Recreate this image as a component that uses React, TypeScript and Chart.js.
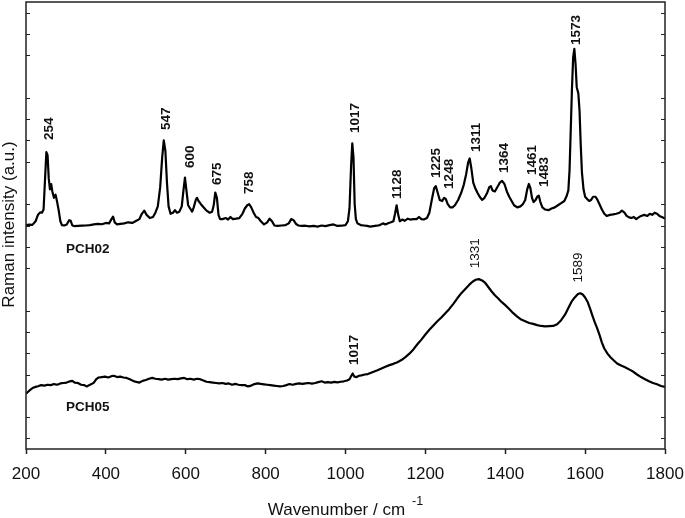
import React, { useEffect, useRef } from "react";
import { Chart, registerables } from "chart.js";

Chart.register(...registerables);

// ---- Data (wavenumber in cm^-1, intensity in arbitrary units, offset spectra) ----
const pch02Wavenumber = [
  200, 208, 216, 224, 230, 236, 240, 244, 248, 251, 254, 257, 260, 263, 266, 270, 274, 278, 282, 286,
  290, 296, 302, 308, 312, 316, 322, 330, 340, 350, 360, 370, 380, 390, 400, 408, 414, 418, 422, 428,
  436, 446, 456, 466, 474, 484, 490, 496, 502, 510, 518, 524, 530, 536, 541, 545, 549, 553, 557, 562,
  568, 573, 578, 584, 590, 594, 598, 602, 606, 611, 616, 620, 625, 628, 632, 638, 645, 652, 660, 666,
  670, 674, 678, 682, 686, 692, 700, 706, 712, 718, 726, 734, 742, 748, 754, 759, 764, 770, 776, 782,
  788, 796, 804, 810, 816, 822, 830, 840, 850, 858, 864, 870, 876, 882, 890, 900, 910, 920, 930, 940,
  950, 960, 970, 980, 990, 1000, 1006, 1010, 1014, 1017, 1020, 1023, 1026, 1030, 1038, 1046, 1054, 1062, 1070, 1078,
  1086, 1094, 1100, 1108, 1114, 1120, 1124, 1128, 1132, 1136, 1142, 1148, 1156, 1162, 1170, 1178, 1184, 1190, 1196, 1204,
  1210, 1216, 1222, 1226, 1230, 1236, 1242, 1247, 1251, 1256, 1262, 1268, 1274, 1282, 1290, 1296, 1302, 1307, 1311, 1315,
  1320, 1325, 1330, 1336, 1342, 1348, 1354, 1360, 1364, 1368, 1374, 1380, 1386, 1392, 1398, 1404, 1410, 1416, 1422, 1430,
  1438, 1444, 1450, 1455, 1459, 1463, 1467, 1471, 1476, 1480, 1484, 1488, 1493, 1500, 1508, 1516, 1524, 1532, 1540, 1548,
  1554, 1558, 1561, 1564, 1567, 1570, 1573, 1576, 1579, 1583, 1586, 1589, 1592, 1596, 1600, 1605, 1610, 1615, 1620, 1626,
  1631, 1636, 1642, 1648, 1654, 1662, 1670, 1678, 1686, 1692, 1698, 1704, 1710, 1716, 1722, 1728, 1734, 1740, 1748, 1756,
  1762, 1768, 1774, 1780, 1786, 1792, 1800,
];
const pch02Intensity = [
  10.02, 10.04, 10.03, 10.2, 10.5, 10.62, 10.6, 10.75, 12.3, 13.45, 13.3, 12.2, 11.7, 11.95, 11.6, 11.3, 11.45, 11.1, 10.7, 10.2,
  10.02, 10.0, 10.05, 10.25, 10.22, 10.0, 9.97, 9.98, 9.99, 10.0, 10.02, 10.05, 10.08, 10.06, 10.12, 10.1, 10.3, 10.42, 10.15, 10.05,
  10.08, 10.1, 10.15, 10.12, 10.2, 10.3, 10.55, 10.7, 10.5, 10.35, 10.4, 10.6, 10.9, 11.8, 13.2, 14.0, 13.5, 12.0, 10.9, 10.55,
  10.6, 10.72, 10.6, 10.65, 10.9, 11.6, 12.25, 11.6, 10.95, 10.8, 10.65, 10.85, 11.2, 11.3, 11.15, 11.0, 10.85, 10.7, 10.6, 10.65,
  10.95, 11.55, 11.3, 10.5, 10.3, 10.3, 10.35, 10.28, 10.4, 10.3, 10.32, 10.35, 10.55, 10.8, 10.95, 11.0, 10.85, 10.6, 10.4, 10.35,
  10.2, 10.05, 10.15, 10.32, 10.2, 10.0, 9.98, 10.0, 10.02, 10.1, 10.3, 10.25, 10.08, 10.0, 9.98, 9.99, 9.96, 9.98, 9.95, 10.0,
  9.97, 10.02, 10.05, 9.98, 9.99, 10.02, 10.2, 10.8, 12.8, 13.86, 13.2, 11.0, 10.3, 10.1, 10.02, 10.0, 9.98, 9.95, 9.97, 9.99,
  10.02, 10.1, 10.05, 10.12, 10.15, 10.2, 10.55, 10.95, 10.5, 10.2, 10.28, 10.22, 10.32, 10.28, 10.3, 10.3, 10.4, 10.3, 10.28, 10.35,
  10.6, 11.2, 11.75, 11.85, 11.6, 11.2, 11.15, 11.3, 11.25, 11.0, 10.85, 10.85, 10.95, 11.2, 11.55, 11.9, 12.4, 12.95, 13.15, 12.7,
  12.0, 11.75, 11.55, 11.35, 11.2, 11.3, 11.5, 11.8, 11.85, 11.65, 11.6, 11.8, 12.0, 12.1, 11.95, 11.6, 11.35, 11.15, 10.95, 10.85,
  10.9, 11.0, 11.2, 11.7, 11.95, 11.75, 11.3, 11.1, 11.2, 11.35, 11.4, 11.1, 10.85, 10.75, 10.72, 10.8, 10.85, 10.95, 11.05, 11.15,
  11.4, 11.65, 12.6, 14.5, 16.4, 17.9, 18.3, 17.6, 16.5, 16.2, 15.4, 13.8, 12.5, 11.7, 11.35, 11.25, 11.15, 11.2, 11.35, 11.35,
  11.2, 11.0, 10.75, 10.55, 10.45, 10.5, 10.52, 10.55, 10.6, 10.7, 10.62, 10.45, 10.38, 10.35, 10.4, 10.3, 10.38, 10.45, 10.5, 10.45,
  10.55, 10.5, 10.6, 10.55, 10.45, 10.4, 10.33,
];

const pch05Wavenumber = [
  200, 206, 212, 218, 224, 230, 238, 246, 254, 262, 270, 278, 286, 294, 302, 310, 316, 322, 330, 338,
  346, 352, 358, 364, 370, 376, 382, 390, 398, 406, 414, 420, 428, 436, 444, 452, 460, 468, 476, 484,
  492, 500, 508, 516, 524, 532, 540, 548, 556, 564, 572, 580, 588, 596, 604, 612, 620, 628, 636, 644,
  652, 660, 668, 676, 684, 692, 700, 708, 716, 724, 732, 740, 748, 756, 764, 772, 780, 788, 796, 804,
  812, 820, 828, 836, 844, 852, 860, 868, 876, 884, 892, 900, 908, 916, 924, 932, 940, 948, 956, 964,
  972, 980, 988, 996, 1004, 1010, 1014, 1018, 1022, 1028, 1034, 1040, 1048, 1056, 1064, 1072, 1080, 1090, 1100, 1110,
  1120, 1130, 1140, 1150, 1160, 1170, 1180, 1190, 1200, 1210, 1220, 1230, 1240, 1250, 1260, 1270, 1280, 1290, 1300, 1310,
  1318, 1326, 1334, 1342, 1350, 1358, 1366, 1374, 1382, 1390, 1400, 1410, 1420, 1430, 1440, 1450, 1460, 1470, 1480, 1490,
  1500, 1510, 1520, 1530, 1540, 1550, 1558, 1566, 1574, 1582, 1588, 1594, 1600, 1606, 1612, 1618, 1624, 1630, 1636, 1642,
  1648, 1656, 1664, 1672, 1680, 1690, 1700, 1710, 1720, 1730, 1740, 1750, 1760, 1770, 1780, 1790, 1800,
];
const pch05Intensity = [
  2.1, 2.2, 2.3, 2.38, 2.42, 2.45, 2.5, 2.48, 2.52, 2.5, 2.55, 2.52, 2.58, 2.6, 2.62, 2.68, 2.7, 2.62, 2.6, 2.52,
  2.5, 2.44, 2.5, 2.55, 2.62, 2.78, 2.86, 2.88, 2.9, 2.86, 2.92, 2.94, 2.88, 2.9, 2.86, 2.84, 2.78, 2.7, 2.65, 2.62,
  2.7, 2.74, 2.8, 2.84, 2.8, 2.78, 2.76, 2.8, 2.76, 2.78, 2.8, 2.78, 2.82, 2.84, 2.78, 2.8, 2.76, 2.8, 2.78, 2.72,
  2.66, 2.64, 2.62, 2.6, 2.58, 2.6, 2.56, 2.58, 2.52, 2.56, 2.52, 2.5, 2.5, 2.44, 2.48, 2.55, 2.58, 2.56, 2.54, 2.52,
  2.5, 2.48, 2.46, 2.44, 2.46, 2.5, 2.55, 2.52, 2.56, 2.58, 2.56, 2.58, 2.6, 2.57, 2.6, 2.64, 2.68, 2.62, 2.64, 2.62,
  2.65, 2.63, 2.66, 2.68, 2.72, 2.78, 2.92, 3.05, 2.9, 2.88, 2.94, 2.96, 3.0, 3.02, 3.08, 3.14, 3.2, 3.28, 3.36, 3.44,
  3.5, 3.58, 3.68, 3.82, 3.98, 4.18, 4.42, 4.64, 4.88, 5.1, 5.3, 5.5, 5.68, 5.88, 6.08, 6.32, 6.58, 6.82, 7.02, 7.22,
  7.36, 7.45, 7.48, 7.42, 7.3, 7.1, 6.9, 6.72, 6.58, 6.42, 6.26, 6.08, 5.88, 5.72, 5.58, 5.5, 5.42, 5.38, 5.32, 5.28,
  5.26, 5.27, 5.28, 5.36, 5.55, 5.82, 6.12, 6.42, 6.62, 6.78, 6.82, 6.76, 6.62, 6.42, 6.12, 5.78, 5.46, 5.18, 4.86, 4.5,
  4.22, 3.98, 3.8, 3.66, 3.52, 3.42, 3.34, 3.24, 3.14, 3.0, 2.88, 2.78, 2.68, 2.6, 2.54, 2.46, 2.42,
];

const xTickValues = [200, 400, 600, 800, 1000, 1200, 1400, 1600, 1800];
const yTickValues = [0, 1, 3, 4, 5, 6, 8, 9, 10, 11, 13, 14, 15, 16, 18, 19, 20];

// Peak annotations: text, anchor wavenumber, anchor intensity (bottom end of the rotated text)
const pch02PeakText = ["254", "547", "600", "675", "758", "1017", "1128", "1225", "1248", "1311", "1364", "1461", "1483", "1573"];
const pch02PeakX = [268, 560, 620, 689, 768, 1034, 1140, 1236, 1269, 1336, 1407, 1476, 1507, 1587];
const pch02PeakY = [14.02, 14.49, 12.7, 11.9, 11.48, 14.35, 11.25, 12.23, 11.72, 13.45, 12.47, 12.37, 11.81, 18.48];

const pch05PeakText = ["1017", "1331", "1589"];
const pch05PeakX = [1031, 1334, 1593];
const pch05PeakY = [3.45, 7.99, 7.32];

const seriesNames = ["PCH02", "PCH05"];
const seriesLabelX = [300, 300];
const seriesLabelY = [8.72, 1.3];

const FONT = "'Liberation Sans', Arial, Helvetica, sans-serif";

function drawVertical(ctx: CanvasRenderingContext2D, text: string, px: number, py: number, font: string) {
  ctx.save();
  ctx.translate(px, py);
  ctx.rotate(-Math.PI / 2);
  ctx.font = font;
  ctx.textAlign = "left";
  ctx.textBaseline = "alphabetic";
  ctx.fillText(text, 0, 0);
  ctx.restore();
}

const overlayPlugin = {
  id: "overlay",
  afterDraw(chart: any) {
    const { ctx, chartArea: a, scales } = chart;
    const x = scales.x;
    const y = scales.y;
    ctx.save();
    // frame
    ctx.strokeStyle = "#222";
    ctx.lineWidth = 1.5;
    ctx.strokeRect(a.left, a.top, a.right - a.left, a.bottom - a.top);
    // inner y ticks, left and right
    ctx.lineWidth = 1.2;
    yTickValues.forEach((v) => {
      const py = Math.round(y.getPixelForValue(v)) + 0.5;
      ctx.beginPath();
      ctx.moveTo(a.left, py);
      ctx.lineTo(a.left + 4, py);
      ctx.moveTo(a.right, py);
      ctx.lineTo(a.right - 4, py);
      ctx.stroke();
    });

    ctx.fillStyle = "#111";
    const bold = `bold 13.5px ${FONT}`;
    const normal = `13.5px ${FONT}`;
    pch02PeakText.forEach((t, i) => {
      drawVertical(ctx, t, x.getPixelForValue(pch02PeakX[i]), y.getPixelForValue(pch02PeakY[i]), bold);
    });
    pch05PeakText.forEach((t, i) => {
      drawVertical(ctx, t, x.getPixelForValue(pch05PeakX[i]), y.getPixelForValue(pch05PeakY[i]), i === 0 ? bold : normal);
    });

    // series names
    ctx.font = bold;
    ctx.textAlign = "left";
    ctx.textBaseline = "alphabetic";
    seriesNames.forEach((n, i) => {
      ctx.fillText(n, x.getPixelForValue(seriesLabelX[i]), y.getPixelForValue(seriesLabelY[i]));
    });

    // y axis title
    ctx.save();
    ctx.translate(14, (a.top + a.bottom) / 2 - 1);
    ctx.rotate(-Math.PI / 2);
    ctx.font = `17px ${FONT}`;
    ctx.textAlign = "center";
    ctx.textBaseline = "alphabetic";
    ctx.fillText("Raman intensity (a.u.)", 0, 0);
    ctx.restore();

    // x axis title with superscript
    const main = "Wavenumber / cm";
    const sup = "-1";
    ctx.font = `17px ${FONT}`;
    const wMain = ctx.measureText(main).width;
    ctx.font = `12.5px ${FONT}`;
    const wSup = ctx.measureText(sup).width;
    const gap = 7;
    const total = wMain + gap + wSup;
    const cx = (a.left + a.right) / 2;
    const startX = cx - total / 2;
    ctx.textAlign = "left";
    ctx.textBaseline = "alphabetic";
    ctx.font = `17px ${FONT}`;
    ctx.fillText(main, startX, a.bottom + 65.5);
    ctx.font = `12.5px ${FONT}`;
    ctx.fillText(sup, startX + wMain + gap, a.bottom + 56);
    ctx.restore();
  },
};

export default function App() {
  const canvasRef = useRef<HTMLCanvasElement | null>(null);

  useEffect(() => {
    const canvas = canvasRef.current;
    if (!canvas) return;
    const toPoints = (xs: number[], ys: number[]) => xs.map((v, i) => ({ x: v, y: ys[i] }));
    const chart = new Chart(canvas, {
      type: "line",
      data: {
        datasets: [
          {
            label: seriesNames[0],
            data: toPoints(pch02Wavenumber, pch02Intensity),
            borderColor: "#000",
            borderWidth: 2.2,
            pointRadius: 0,
            tension: 0,
            borderJoinStyle: "round",
          },
          {
            label: seriesNames[1],
            data: toPoints(pch05Wavenumber, pch05Intensity),
            borderColor: "#000",
            borderWidth: 2.2,
            pointRadius: 0,
            tension: 0,
            borderJoinStyle: "round",
          },
        ],
      },
      options: {
        animation: false,
        responsive: false,
        devicePixelRatio: 1,
        layout: { padding: { left: 26, right: 20, top: 2, bottom: 0 } },
        plugins: { legend: { display: false }, tooltip: { enabled: false } },
        scales: {
          x: {
            type: "linear",
            min: 200,
            max: 1800,
            position: "bottom",
            afterBuildTicks: (s: any) => {
              s.ticks = xTickValues.map((v) => ({ value: v }));
            },
            afterFit: (s: any) => {
              s.height = 69;
              s.paddingLeft = 0;
              s.paddingRight = 0;
            },
            ticks: {
              font: { family: FONT, size: 17 },
              color: "#111",
              padding: 10,
              maxRotation: 0,
              autoSkip: false,
              callback: (v: any) => String(v),
            },
            grid: {
              display: true,
              drawOnChartArea: false,
              drawTicks: true,
              tickLength: 5,
              tickWidth: 1.5,
              tickColor: "#222",
              color: "#222",
            },
            border: { display: false },
          },
          y: {
            type: "linear",
            min: -0.5,
            max: 20.5,
            display: false,
          },
        },
      },
      plugins: [overlayPlugin],
    } as any);
    return () => chart.destroy();
  }, []);

  return (
    <div style={{ position: "absolute", left: 0, top: 0, width: 685, height: 518, background: "#fff" }}>
      <canvas ref={canvasRef} width={685} height={518} style={{ display: "block", width: 685, height: 518 }} />
    </div>
  );
}
